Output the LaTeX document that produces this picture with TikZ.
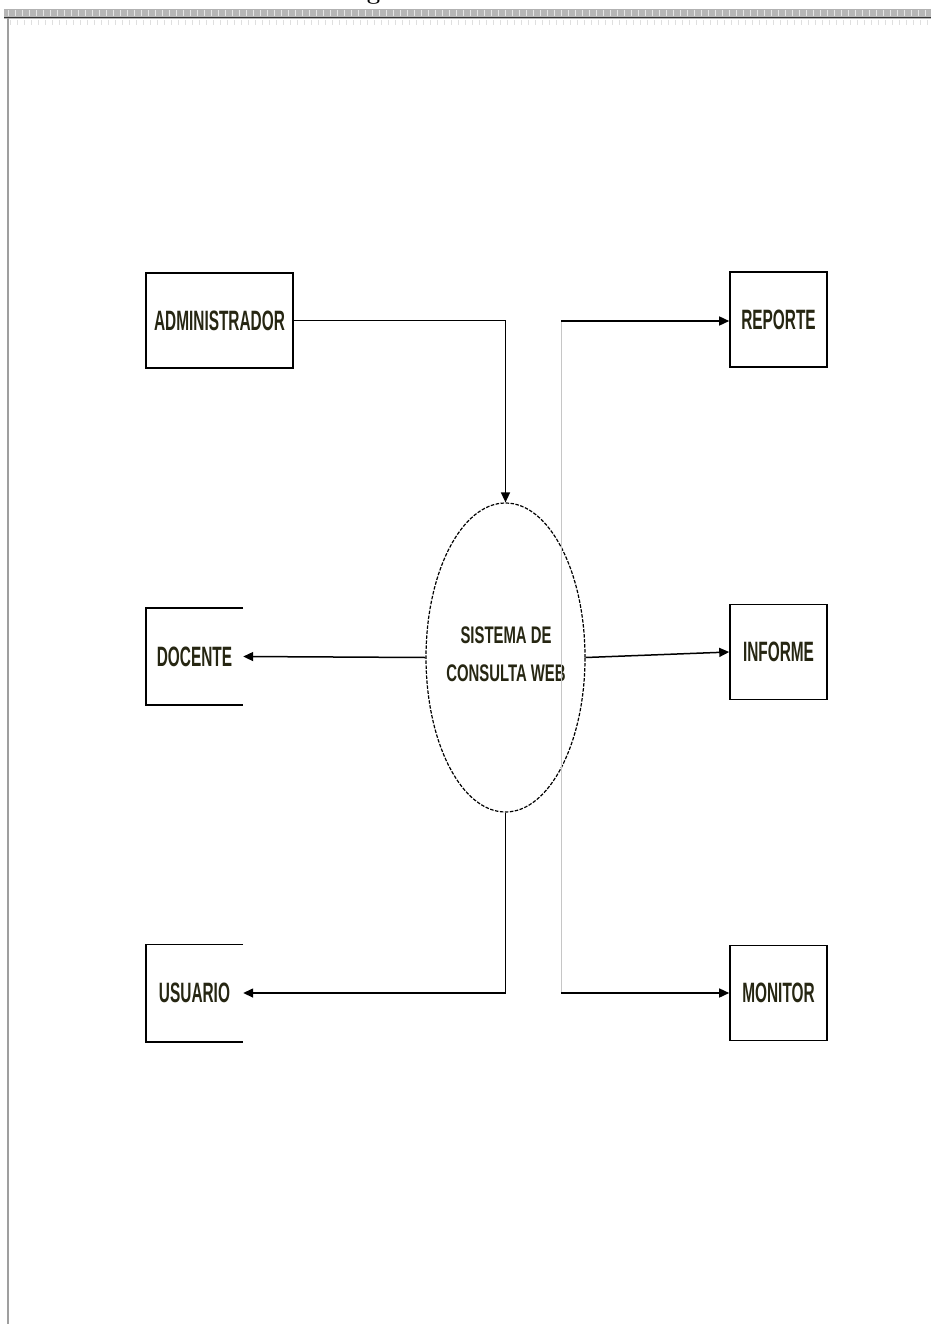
\documentclass[tikz,border=0pt]{standalone}
\usepackage{fontspec}
\usetikzlibrary{arrows.meta,shapes.geometric}
\newfontfamily\condfont[FakeStretch=0.55]{Liberation Sans Bold}
\newfontfamily\condfontb[FakeStretch=0.62]{Liberation Sans Bold}
\definecolor{txtcol}{RGB}{38,38,18}
\definecolor{framegray}{RGB}{150,150,150}
\begin{document}
\begin{tikzpicture}[x=1pt,y=-1pt,
  entbox/.style={draw=black,line width=1.6pt,minimum width=97pt,minimum height=95pt,inner sep=0pt,
    font=\condfont\fontsize{28}{30}\selectfont,text=txtcol},
  openbox/.style={minimum width=97pt,minimum height=97pt,inner sep=0pt,
    font=\condfont\fontsize{28}{30}\selectfont,text=txtcol},
  procnode/.style={ellipse,draw=black,line width=1.2pt,dash pattern=on 3.5pt off 1.5pt,
    minimum width=159pt,minimum height=309pt,inner sep=0pt},
  proctext/.style={align=center,inner sep=0pt,
    font=\condfontb\fontsize{24}{38}\selectfont,text=txtcol},
  flow/.style={line width=1.5pt,-{Triangle[length=10pt,width=9pt]}},
  plain/.style={line width=1.5pt}
]
\useasboundingbox (0,0) rectangle (931,1324);
\fill[white] (0,0) rectangle (931,1324);
% page frame
\fill[framegray!70] (4,9) rectangle (931,19);
\foreach \i in {0,...,132} {\draw[white!80!gray,line width=1pt] (8+7*\i,10) -- (8+7*\i,16);}
\draw[black!80,line width=1.5pt] (4,17.5) -- (931,17.5);
\draw[gray!60,line width=0.8pt] (4,9) -- (931,9);
\foreach \i in {0,...,132} {\draw[gray!25,line width=0.8pt] (10+7*\i,20) -- (10+7*\i,25);}
\draw[gray!75,line width=2.5pt] (8,18) -- (8,1324);
\node[anchor=base,font=\bfseries\fontsize{24}{26}\selectfont] (head) at (373.5,0) {g};
% nodes
\node[entbox,minimum width=147pt] (admin) at (219.5,320.5) {ADMINISTRADOR};
\node[entbox] (reporte) at (778.5,319.5) {REPORTE};
\node[entbox] (informe) at (778.5,652) {INFORME};
\node[entbox] (monitor) at (778.5,993) {MONITOR};
\node[openbox] (docente) at (194.5,656.5) {DOCENTE};
\node[openbox] (usuario) at (194.5,993) {USUARIO};
\draw[line width=1.6pt] (docente.north east) -- (docente.north west) -- (docente.south west) -- (docente.south east);
\draw[line width=1.6pt] (usuario.north east) -- (usuario.north west) -- (usuario.south west) -- (usuario.south east);
\node[procnode] (sys) at (505.5,657.5) {};
\node[proctext] (systxt) at (506,654) {SISTEMA DE\\CONSULTA WEB};
% connectors
\coordinate (r1) at (561,321);
\coordinate (r2) at (561,993);
\draw[gray!45,line width=0.8pt] (r1) -- (r2);
\draw[flow] (admin.east) -| (sys.north);
\draw[flow] (sys.west) -- (docente.east);
\draw[flow] (sys.south) |- (usuario.east);
\draw[flow] (sys.east) -- (informe.west);
\draw[flow] (r1) -- (r1 -| reporte.west);
\draw[flow] (r2) -- (r2 -| monitor.west);
\end{tikzpicture}
\end{document}
